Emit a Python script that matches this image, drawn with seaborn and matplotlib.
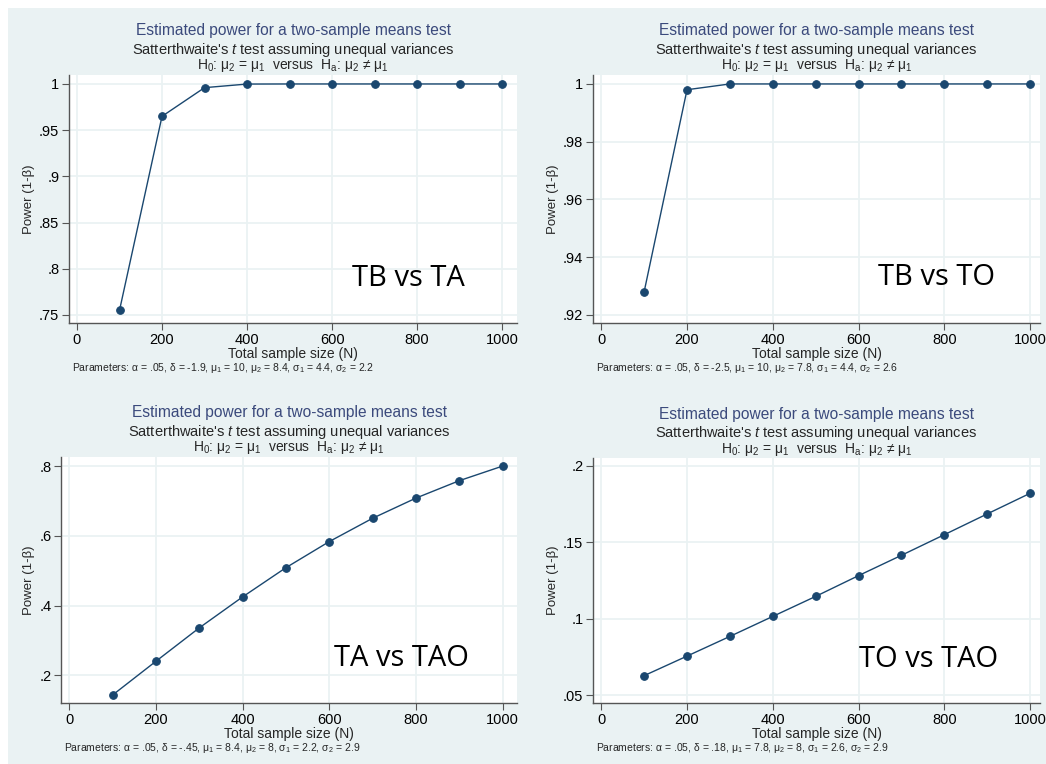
import numpy as np
import pandas as pd
import matplotlib
matplotlib.use("Agg")
import matplotlib.pyplot as plt
import seaborn as sns

# dados
sample_size = [100, 200, 300, 400, 500, 600, 700, 800, 900, 1000]
power_tb_ta = [0.755, 0.965, 0.996, 0.9999, 1.0, 1.0, 1.0, 1.0, 1.0, 1.0]
power_tb_to = [0.928, 0.998, 1.0, 1.0, 1.0, 1.0, 1.0, 1.0, 1.0, 1.0]
power_ta_tao = [0.143, 0.240, 0.336, 0.425, 0.509, 0.584, 0.651, 0.709, 0.759, 0.801]
power_to_tao = [0.0627, 0.0755, 0.0884, 0.1015, 0.1146, 0.1282, 0.1415, 0.155, 0.1686, 0.1821]

comparisons = ["TB vs TA", "TB vs TO", "TA vs TAO", "TO vs TAO"]
yticks_list = [[0.75, 0.8, 0.85, 0.9, 0.95, 1.0],
               [0.92, 0.94, 0.96, 0.98, 1.0],
               [0.2, 0.4, 0.6, 0.8],
               [0.05, 0.1, 0.15, 0.2]]
ytick_labels = [[".75", ".8", ".85", ".9", ".95", "1"],
                [".92", ".94", ".96", ".98", "1"],
                [".2", ".4", ".6", ".8"],
                [".05", ".1", ".15", ".2"]]
xticks = [0, 200, 400, 600, 800, 1000]
params = [r"Parameters: α = .05, δ = -1.9, μ$_1$ = 10, μ$_2$ = 8.4, σ$_1$ = 4.4, σ$_2$ = 2.2",
          r"Parameters: α = .05, δ = -2.5, μ$_1$ = 10, μ$_2$ = 7.8, σ$_1$ = 4.4, σ$_2$ = 2.6",
          r"Parameters: α = .05, δ = -.45, μ$_1$ = 8.4, μ$_2$ = 8, σ$_1$ = 2.2, σ$_2$ = 2.9",
          r"Parameters: α = .05, δ = .18, μ$_1$ = 7.8, μ$_2$ = 8, σ$_1$ = 2.6, σ$_2$ = 2.9"]

sns.set_style("white")
plt.rcParams['font.family'] = ['Liberation Sans', 'DejaVu Sans']
plt.rcParams['mathtext.fontset'] = 'custom'
plt.rcParams['mathtext.rm'] = 'Liberation Sans'
plt.rcParams['mathtext.it'] = 'Liberation Sans:italic'

W, H = 1046, 764
bg = '#eaf2f3'
navy = '#1a476f'
fig = plt.figure(figsize=(W / 100, H / 100), dpi=100)
fig.patch.set_facecolor('white')
fig.patches.append(plt.Rectangle((8 / W, 0), 1, 1 - 8 / H, transform=fig.transFigure,
                                 facecolor=bg, edgecolor='none', zorder=-10))

# caixas em pixels: esquerda, direita, topo, base ; limites de x e y
boxes = [(69, 517, 75, 323), (593, 1040, 75, 323), (61, 517, 457, 703), (593, 1040, 458, 703)]
xlims = [(-18.8, 1035), (-19.2, 1023), (-19.1, 1033), (-19.2, 1023)]
ylims = [(0.7413, 1.0097), (0.9172, 1.0031), (0.12, 0.827), (0.0448, 0.2052)]
series = [power_tb_ta, power_tb_to, power_ta_tao, power_to_tao]
label_pos = [(0.632, 0.181), (0.637, 0.185), (0.599, 0.179), (0.595, 0.179)]
ylab_x = [29, 553, 29, 553]

for i in range(4):
    l, r, t, b = boxes[i]
    ax = fig.add_axes([l / W, 1 - b / H, (r - l) / W, (b - t) / H])
    ax.set_facecolor('white')
    df = pd.DataFrame({'N': sample_size, 'power': series[i]})
    sns.lineplot(data=df, x='N', y='power', ax=ax, color=navy, linewidth=1.0,
                 marker='o', markersize=5.5, markeredgecolor=navy, markerfacecolor=navy)
    ax.set_xlim(*xlims[i])
    ax.set_ylim(*ylims[i])
    ax.set_xticks(xticks)
    ax.set_xticklabels([str(v) for v in xticks])
    ax.set_yticks(yticks_list[i])
    ax.set_yticklabels(ytick_labels[i])
    ax.grid(True, color=bg, linewidth=1.3)
    ax.set_axisbelow(True)
    for s in ['top', 'right']:
        ax.spines[s].set_visible(False)
    for s in ['left', 'bottom']:
        ax.spines[s].set_color('#555555')
        ax.spines[s].set_linewidth(1.0)
    ax.tick_params(axis='both', direction='out', length=5, width=0.8, color='#555555',
                   labelsize=10.5, pad=2, left=True, bottom=True, labelcolor='black')
    ax.set_xlabel('Total sample size (N)', fontsize=10, labelpad=0)
    ax.set_ylabel('')
    fig.text(ylab_x[i] / W, 1 - ((t + b) / 2) / H, 'Power (1-β)', rotation=90,
             ha='center', va='center', fontsize=9.5)

    cx = (l + r) / 2 / W
    fig.text(cx, 1 - (t - 44) / H, 'Estimated power for a two-sample means test',
             ha='center', va='center', fontsize=11.2, color='#3b4a7c')
    fig.text(cx, 1 - (t - 25) / H, r"Satterthwaite's $\mathit{t}$ test assuming unequal variances",
             ha='center', va='center', fontsize=10.5)
    fig.text(cx, 1 - (t - 9) / H, r"H$_0$: μ$_2$ = μ$_1$  versus  H$_\mathrm{a}$: μ$_2$ ≠ μ$_1$",
             ha='center', va='center', fontsize=10)
    fig.text((l + 3) / W, 1 - (b + 45) / H, params[i], ha='left', va='center', fontsize=7.5)

    ax.text(label_pos[i][0], label_pos[i][1], comparisons[i], transform=ax.transAxes,
            ha='left', va='center', fontsize=21, family='Open Sans', color='black')

plt.savefig('out.png', dpi=100, facecolor=fig.get_facecolor())
